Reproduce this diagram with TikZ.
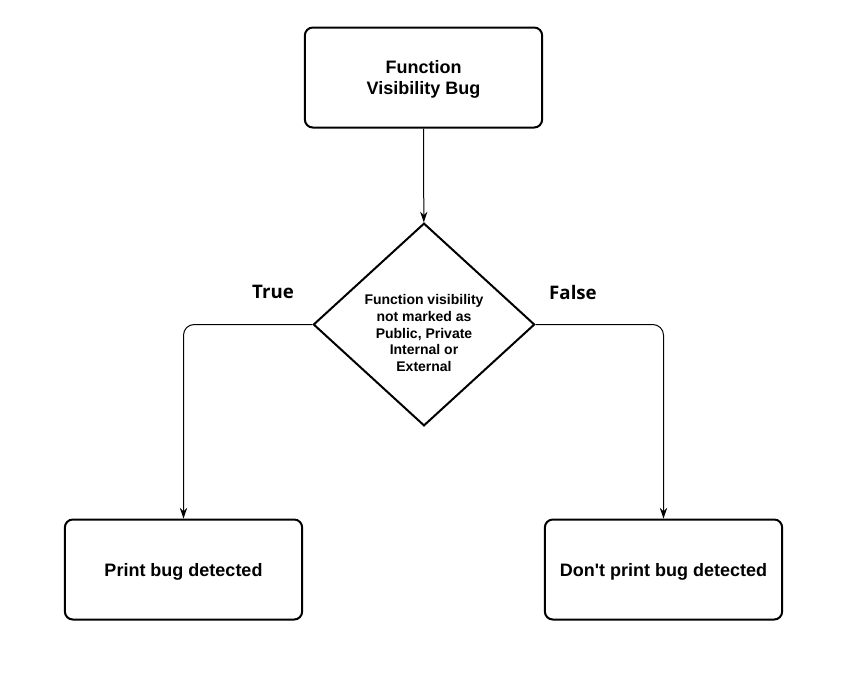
\documentclass[tikz,border=0pt]{standalone}
\usepackage{fontspec}
\setmainfont{Liberation Sans}
\newfontfamily\boxfont{Liberation Sans}
\newfontfamily\labelfont{Open Sans}
\usetikzlibrary{shapes.geometric,arrows.meta}
\begin{document}
\begin{tikzpicture}[x=0.75pt,y=-0.75pt,
  box/.style={draw,line width=1.5pt,rounded corners=6pt,minimum width=178pt,minimum height=75pt},
  boxtext/.style={align=center,font=\boxfont\fontsize{13.5}{15.75}\selectfont\bfseries},
  decision/.style={draw,diamond,line width=1.5pt,minimum width=166pt,minimum height=152pt,inner sep=0pt},
  dectext/.style={align=center,font=\boxfont\fontsize{10.5}{12.5}\selectfont\bfseries},
  conn/.style={line width=0.75pt,-{Stealth[length=8pt,width=5.5pt]},rounded corners=8pt},
  lbl/.style={font=\labelfont\fontsize{14}{16}\selectfont\bfseries}]
\useasboundingbox (0,0) rectangle (850,672);
\node[box] (top) at (423.5,77.5) {};
\node[boxtext] (toptext) at (423.5,79) {Function\\Visibility Bug};
\node[decision] (dec) at (424,324.5) {};
\node[dectext] (dectxt) at (424,333) {Function visibility\\not marked as\\Public, Private\\Internal or\\External};
\node[box] (left) at (183.5,569.5) {};
\node[boxtext] (lefttext) at (183.5,572) {Print bug detected};
\node[box] (right) at (663.5,569.5) {};
\node[boxtext] (righttext) at (663.5,572) {Don't print bug detected};
\draw[conn] (top) -- (dec);
\draw[conn] (dec.west) -| (left.north);
\draw[conn] (dec.east) -| (right.north);
\node[lbl] (t) at (273,292) {True};
\node[lbl] (f) at (573,292) {False};
\end{tikzpicture}
\end{document}
